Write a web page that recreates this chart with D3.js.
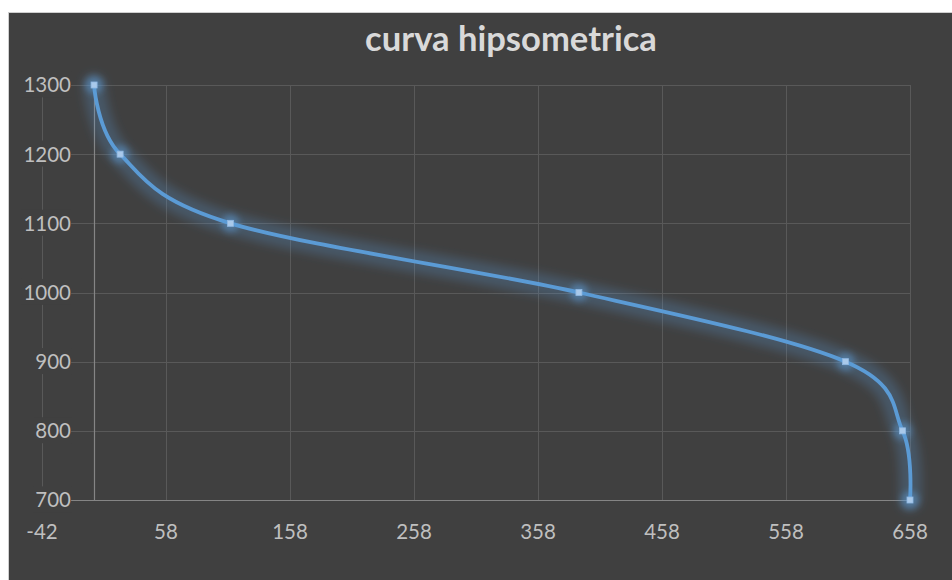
<!DOCTYPE html>
<html>
<head>
<meta charset="utf-8">
<script src="https://cdn.jsdelivr.net/npm/d3@7"></script>
<style>
  html, body { margin: 0; padding: 0; background: #ffffff; }
  svg { display: block; }
</style>
</head>
<body>
<svg id="chart" width="952" height="580"></svg>
<script>
// ---- data ----
const title = "curva hipsometrica";
const areaValues = [0, 21, 110, 391, 606, 652, 658];
const elevationValues = [1300, 1200, 1100, 1000, 900, 800, 700];
const xTickValues = [-42, 58, 158, 258, 358, 458, 558, 658];
const yTickValues = [700, 800, 900, 1000, 1100, 1200, 1300];

const points = areaValues.map((a, i) => ({ x: a, y: elevationValues[i] }));

const svg = d3.select("#chart");
const W = 952, H = 580;

const x = d3.scaleLinear().domain([-42, 658]).range([42, 910]);
const y = d3.scaleLinear().domain([700, 1300]).range([500, 85]);

const defs = svg.append("defs");
defs.append("filter").attr("id", "glow").attr("x", "-50%").attr("y", "-50%").attr("width", "200%").attr("height", "200%")
  .append("feGaussianBlur").attr("stdDeviation", 5);
defs.append("filter").attr("id", "glowS").attr("x", "-100%").attr("y", "-100%").attr("width", "300%").attr("height", "300%")
  .append("feGaussianBlur").attr("stdDeviation", 3);

// chart background
svg.append("rect").attr("x", 8.5).attr("y", 12.5).attr("width", W).attr("height", H)
  .attr("fill", "#404040").attr("stroke", "#cfcfcf").attr("stroke-width", 1);

// title
const t = svg.append("text").text(title)
  .attr("x", 511).attr("y", 51).attr("text-anchor", "middle")
  .attr("font-family", "Lato, 'Open Sans', sans-serif").attr("font-weight", "bold")
  .attr("font-size", 30).attr("fill", "#d9d9d9");
const tw = t.node().getComputedTextLength();
t.attr("font-size", 30 * 292 / tw);

// gridlines
const grid = svg.append("g");
grid.selectAll("line.v").data(xTickValues).join("line")
  .attr("x1", d => Math.round(x(d)) + 0.5).attr("x2", d => Math.round(x(d)) + 0.5)
  .attr("y1", y(1300)).attr("y2", y(700))
  .attr("stroke", "#595959").attr("stroke-width", 1);
grid.selectAll("line.h").data(yTickValues).join("line")
  .attr("x1", x(-42)).attr("x2", x(658))
  .attr("y1", d => Math.round(y(d)) + 0.5).attr("y2", d => Math.round(y(d)) + 0.5)
  .attr("stroke", "#595959").attr("stroke-width", 1);

// axis lines
svg.append("line")
  .attr("x1", Math.round(x(0)) + 0.5).attr("x2", Math.round(x(0)) + 0.5)
  .attr("y1", y(1300)).attr("y2", y(700))
  .attr("stroke", "#858585").attr("stroke-width", 1.2);
svg.append("line")
  .attr("x1", x(-42)).attr("x2", x(658))
  .attr("y1", Math.round(y(700)) + 0.5).attr("y2", Math.round(y(700)) + 0.5)
  .attr("stroke", "#858585").attr("stroke-width", 1.2);

// y labels with opaque background
const labelFont = "Lato, 'Open Sans', sans-serif";
const yl = svg.append("g");
yTickValues.forEach(v => {
  const g = yl.append("g");
  const txt = g.append("text").text(v)
    .attr("x", 71).attr("y", y(v)).attr("dy", "0.36em")
    .attr("text-anchor", "end").attr("font-family", labelFont)
    .attr("font-size", 20.5).attr("fill", "#bfbfbf");
  const bb = txt.node().getBBox();
  g.insert("rect", "text").attr("x", bb.x - 2).attr("y", bb.y - 1)
    .attr("width", bb.width + 2).attr("height", bb.height + 2).attr("fill", "#404040");
});

// x labels
svg.append("g").selectAll("text").data(xTickValues).join("text")
  .text(d => d)
  .attr("x", d => x(d)).attr("y", 539)
  .attr("text-anchor", "middle").attr("font-family", labelFont)
  .attr("font-size", 20.5).attr("fill", "#bfbfbf");

// series
const line = d3.line().x(d => x(d.x)).y(d => y(d.y)).curve(d3.curveCatmullRom.alpha(0));

svg.append("path").datum(points).attr("d", line)
  .attr("fill", "none").attr("stroke", "#5b9bd5").attr("stroke-width", 22)
  .attr("stroke-opacity", 0.26).attr("stroke-linecap", "round").attr("filter", "url(#glow)");

svg.append("g").selectAll("circle").data(points).join("circle")
  .attr("cx", d => x(d.x)).attr("cy", d => y(d.y)).attr("r", 9)
  .attr("fill", "#5b9bd5").attr("fill-opacity", 0.5).attr("filter", "url(#glowS)");

svg.append("path").datum(points).attr("d", line)
  .attr("fill", "none").attr("stroke", "#5b9bd5").attr("stroke-width", 3.8)
  .attr("stroke-linecap", "round");

svg.append("g").selectAll("rect").data(points).join("rect")
  .attr("x", d => x(d.x) - 3).attr("y", d => y(d.y) - 3)
  .attr("width", 6).attr("height", 6)
  .attr("fill", "#a9c9ea").attr("stroke", "#8fb8e3").attr("stroke-width", 0.8);
</script>
</body>
</html>
